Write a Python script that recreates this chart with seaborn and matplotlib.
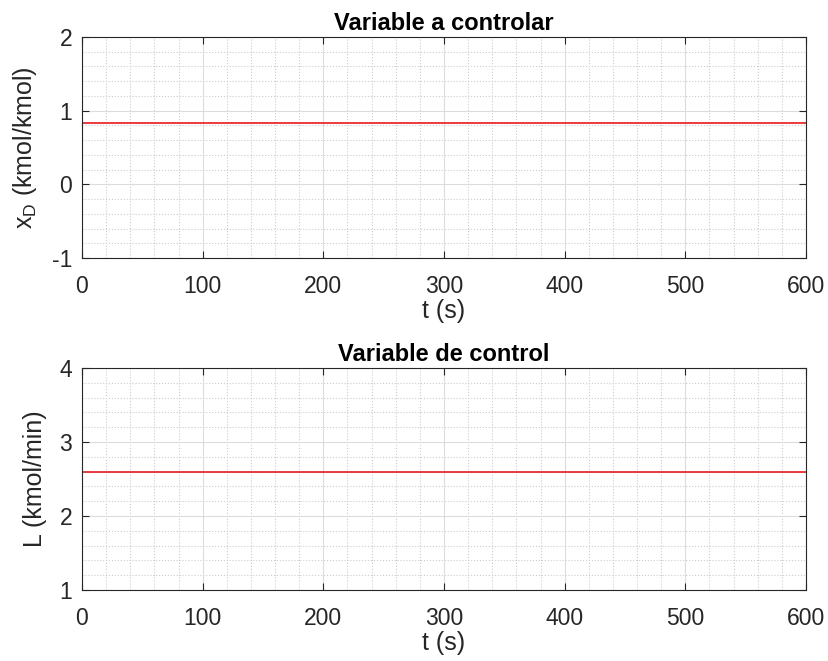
import numpy as np
import pandas as pd
import seaborn as sns
import matplotlib.pyplot as plt
from matplotlib.ticker import MultipleLocator

# data
t = [0, 600]
xD = [0.83, 0.83]
L = [2.6, 2.6]

sns.set_theme(style='white')
plt.rcParams['font.family'] = ['Liberation Sans', 'DejaVu Sans']
plt.rcParams['mathtext.fontset'] = 'custom'
plt.rcParams['mathtext.rm'] = 'Liberation Sans'
plt.rcParams['mathtext.it'] = 'Liberation Sans'
plt.rcParams['axes.unicode_minus'] = False

fig = plt.figure(figsize=(8.29, 6.61), dpi=100)
ax1 = fig.add_axes([0.0989, 0.6097, 0.8734, 0.3343])
ax2 = fig.add_axes([0.0989, 0.1074, 0.8734, 0.3359])

df1 = pd.DataFrame({'t': t, 'y': xD})
df2 = pd.DataFrame({'t': t, 'y': L})

def style(ax, ylo, yhi, title, ylabel):
    ax.set_xlim(0, 600)
    ax.set_ylim(ylo, yhi)
    ax.xaxis.set_major_locator(MultipleLocator(100))
    ax.xaxis.set_minor_locator(MultipleLocator(20))
    ax.yaxis.set_major_locator(MultipleLocator(1))
    ax.yaxis.set_minor_locator(MultipleLocator(0.2))
    ax.grid(which='major', color='#dcdcdc', linestyle='-', linewidth=0.8)
    ax.grid(which='minor', color='#cccccc', linestyle=':', linewidth=0.8)
    ax.set_axisbelow(True)
    ax.tick_params(which='major', direction='in', length=5, width=0.8,
                   top=True, right=True, bottom=True, left=True,
                   labelsize=16.5, colors='#262626')
    ax.tick_params(axis='x', which='major', pad=12)
    ax.tick_params(axis='y', which='major', pad=7)
    ax.tick_params(which='minor', length=0)
    for s in ax.spines.values():
        s.set_color('#262626')
        s.set_linewidth(0.8)
    ax.set_title(title, fontsize=17, fontweight='bold', color='black', pad=5)
    ax.set_xlabel('t (s)', fontsize=18, color='#262626', labelpad=1)
    ax.set_ylabel(ylabel, fontsize=18, color='#262626', labelpad=9)

sns.lineplot(data=df1, x='t', y='y', ax=ax1, color='#e8191f', linewidth=1.2)
style(ax1, -1, 2, 'Variable a controlar', r'x$_\mathregular{D}$ (kmol/kmol)')

sns.lineplot(data=df2, x='t', y='y', ax=ax2, color='#e8191f', linewidth=1.2)
style(ax2, 1, 4, 'Variable de control', 'L (kmol/min)')

fig.savefig('out.png', dpi=100)
